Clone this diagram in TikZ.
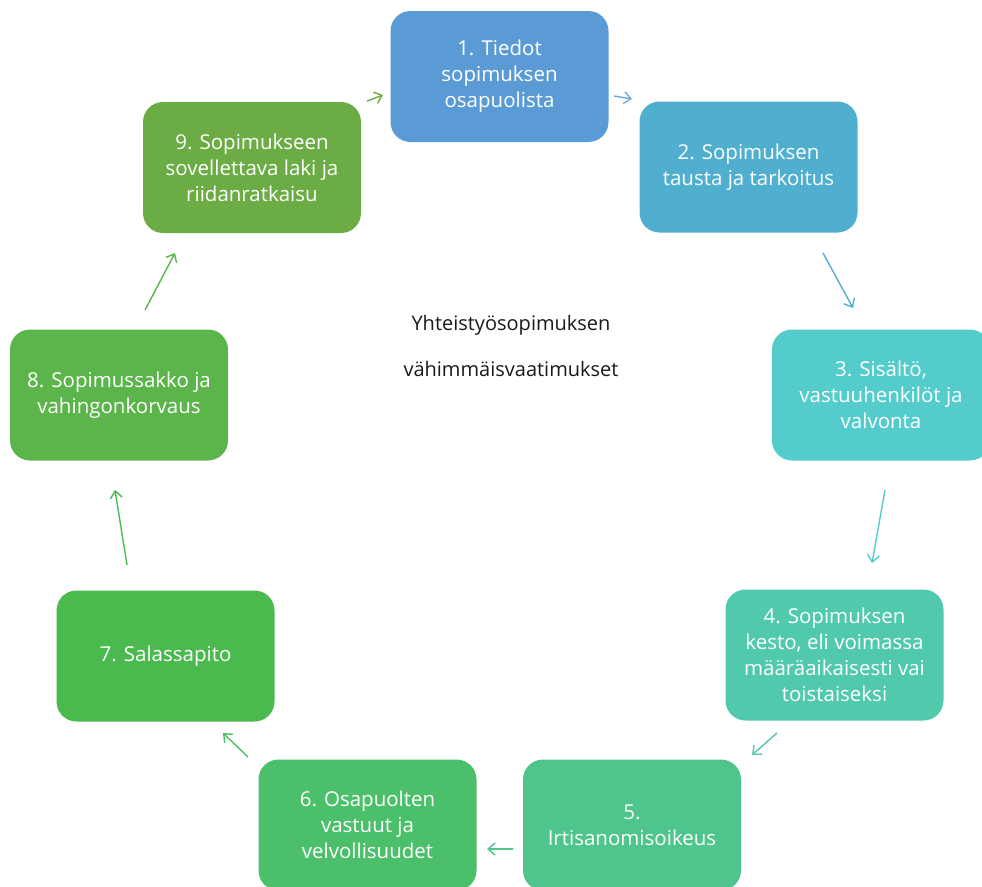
\documentclass[tikz,border=0pt]{standalone}
\usepackage{fontspec}
\setmainfont{Open Sans}
\usetikzlibrary{arrows.meta}
\definecolor{c1}{HTML}{5B9BD5}
\definecolor{c2}{HTML}{50AFCF}
\definecolor{c3}{HTML}{55CCCC}
\definecolor{c4}{HTML}{51C9AC}
\definecolor{c5}{HTML}{4DC58C}
\definecolor{c6}{HTML}{4BBF6A}
\definecolor{c7}{HTML}{4ABA4F}
\definecolor{c8}{HTML}{5BB54A}
\definecolor{c9}{HTML}{6CAC45}
\tikzset{
  stepbox/.style={draw=none, rounded corners=20pt, minimum width=218pt, minimum height=131pt,
    text=white, align=center, inner sep=0pt,
    font=\fontsize{20.5}{26}\selectfont},
  conn/.style={line width=1.4pt, -{Straight Barb[length=7pt,width=12pt,line width=1.4pt]}},
}
\begin{document}
\begin{tikzpicture}[x=1pt,y=-1pt]
\useasboundingbox (0,0) rectangle (982,886);
\clip (0,0) rectangle (982,886);
\node[stepbox, fill=c1] (n1) at (499.5,76.5) {1. Tiedot\\sopimuksen\\osapuolista};
\node[stepbox, fill=c2] (n2) at (748.5,167) {2. Sopimuksen\\tausta ja tarkoitus};
\node[stepbox, fill=c3] (n3) at (881,395) {3. Sisältö,\\vastuuhenkilöt ja\\valvonta};
\node[stepbox, fill=c4] (n4) at (834.5,655) {4. Sopimuksen\\kesto, eli voimassa\\määräaikaisesti vai\\toistaiseksi};
\node[stepbox, fill=c5] (n5) at (632,825) {5.\\Irtisanomisoikeus};
\node[stepbox, fill=c6] (n6) at (367.5,825) {6. Osapuolten\\vastuut ja\\velvollisuudet};
\node[stepbox, fill=c7] (n7) at (165.5,656) {7. Salassapito};
\node[stepbox, fill=c8] (n8) at (119,395) {8. Sopimussakko ja\\vahingonkorvaus};
\node[stepbox, fill=c9] (n9) at (252,167.5) {9. Sopimukseen\\sovellettava laki ja\\riidanratkaisu};
\node[align=center, text=black!90, font=\fontsize{20}{46}\selectfont] (center) at (511,346) {Yhteistyösopimuksen\\vähimmäisvaatimukset};
% arrow end points
\coordinate (a12s) at (614,96);  \coordinate (a12e) at (632,99);
\coordinate (a23s) at (823,253); \coordinate (a23e) at (853,308);
\coordinate (a34s) at (885,490); \coordinate (a34e) at (872,563);
\coordinate (a45s) at (777,733); \coordinate (a45e) at (752,755);
\coordinate (a56s) at (513,849); \coordinate (a56e) at (487,849);
\coordinate (a67s) at (248,757); \coordinate (a67e) at (223,733);
\coordinate (a78s) at (127,565); \coordinate (a78e) at (115,490);
\coordinate (a89s) at (145,310); \coordinate (a89e) at (175,253);
\coordinate (a91s) at (367,101); \coordinate (a91e) at (383,95);
\draw[conn, draw=c1!85] (a12s) -- (a12e);
\draw[conn, draw=c2] (a23s) -- (a23e);
\draw[conn, draw=c3] (a34s) -- (a34e);
\draw[conn, draw=c4] (a45s) -- (a45e);
\draw[conn, draw=c5] (a56s) -- (a56e);
\draw[conn, draw=c6] (a67s) -- (a67e);
\draw[conn, draw=c7] (a78s) -- (a78e);
\draw[conn, draw=c8] (a89s) -- (a89e);
\draw[conn, draw=c9] (a91s) -- (a91e);
\end{tikzpicture}
\end{document}
